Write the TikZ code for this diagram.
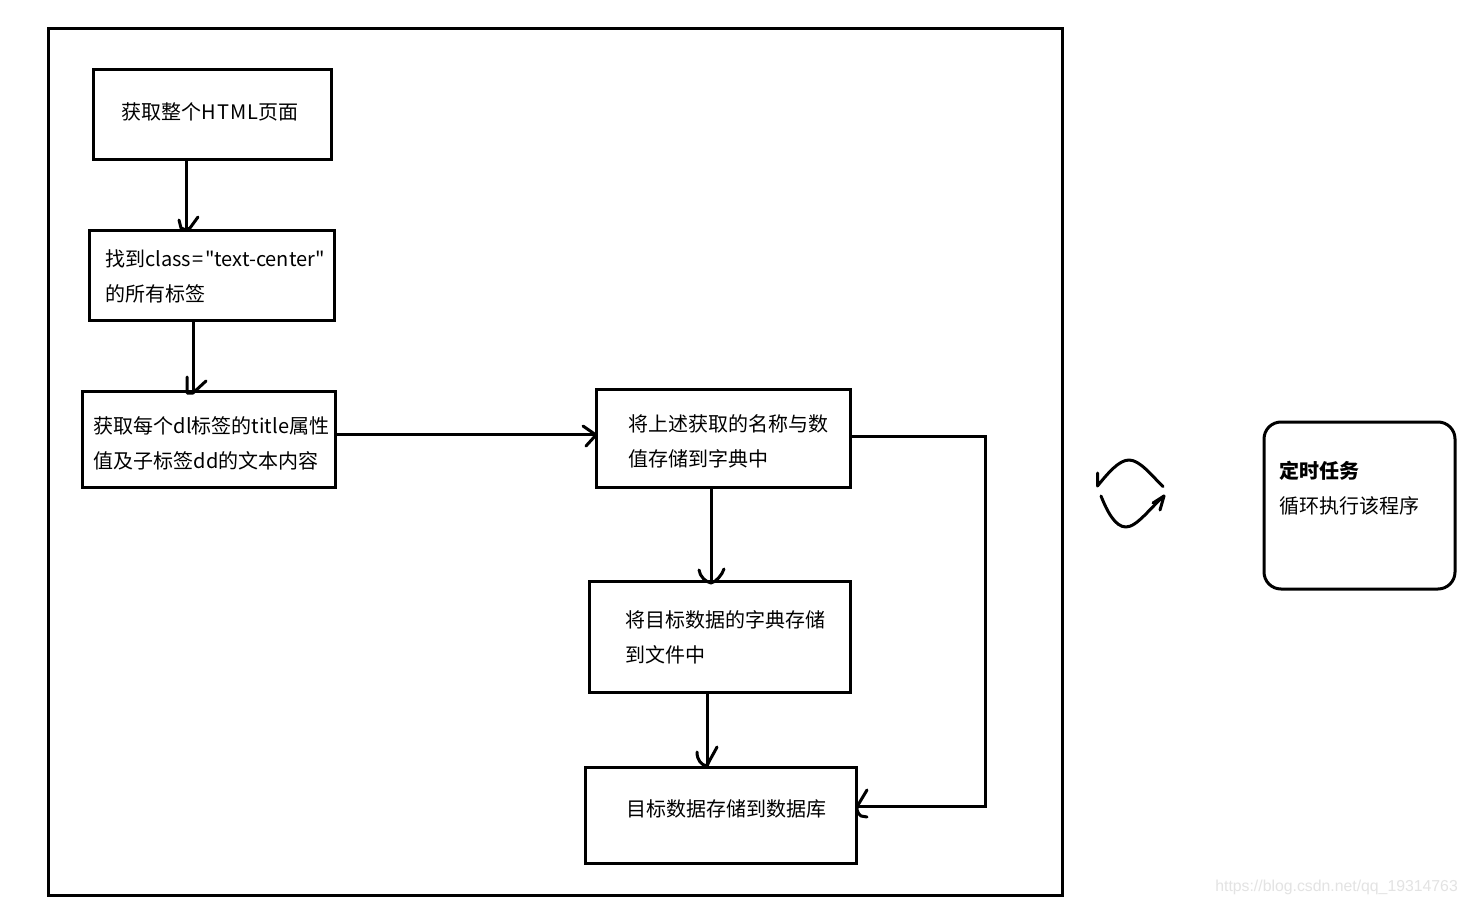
\documentclass[tikz,border=0pt]{standalone}
\usepackage{fontspec}
\newfontfamily\cjk{Noto Sans CJK SC}
\newfontfamily\wmfont{Liberation Sans}
\tikzset{
  every picture/.style={x=1pt,y=-1pt},
  stroke/.style={line width=3pt,draw=black,line cap=round,line join=round},
  boxnode/.style={draw=black,line width=3pt,anchor=north west,inner sep=0pt,outer sep=0pt,
    minimum width=#1},
  label text/.style={anchor=base west,inner sep=0pt,font=\cjk\fontsize{20pt}{24pt}\selectfont},
  connector/.style={line width=3pt,draw=black,line join=miter}
}
\begin{document}
\begin{tikzpicture}
  \useasboundingbox (0,0) rectangle (1467,904);
  \fill[white] (0,0) rectangle (1467,904);

  % outer frame
  \node[boxnode=1014pt,minimum height=866.5pt] (frame) at (48,28.5) {};

  % process boxes
  \node[boxnode=238pt,minimum height=89.5pt] (page) at (93,70) {};
  \node[boxnode=245pt,minimum height=89pt] (tags) at (89,231) {};
  \node[boxnode=253pt,minimum height=96pt] (attrs) at (82,391) {};
  \node[boxnode=254pt,minimum height=98pt] (merge) at (596,389) {};
  \node[boxnode=260.5pt,minimum height=111pt] (file) at (589.5,581) {};
  \node[boxnode=270.5pt,minimum height=96pt] (db) at (585.5,767) {};
  \node[boxnode=191pt,minimum height=167pt,rounded corners=17pt] (timer) at (1264,422) {};

  % box captions
  \node[label text] (t1) at (121.5,119.5) {获取整个H\kern.9ptT\kern.9ptM\kern.9ptL\kern.9pt页面};
  \node[label text] (t2a) at (105,266.5) {找到class\kern1.5pt=\kern1.5pt"text-center"};
  \node[label text] (t2b) at (105,301.5) {的所有标签};
  \node[label text] (t3a) at (93.5,433.5) {获取每个dl标签的title属性};
  \node[label text] (t3b) at (93.5,468.5) {值及子标签dd的文本内容};
  \node[label text] (t4a) at (628.5,431.5) {将上述获取的名称与数};
  \node[label text] (t4b) at (628.5,466.5) {值存储到字典中};
  \node[label text] (t5a) at (625,627.5) {将目标数据的字典存储};
  \node[label text] (t5b) at (625,662.5) {到文件中};
  \node[label text] (t6) at (626.5,816.5) {目标数据存储到数据库};
  \node[label text,font=\cjk\bfseries\fontsize{20pt}{24pt}\selectfont] (t7a) at (1279,478.5) {定时任务};
  \node[label text] (t7b) at (1279,513.5) {循环执行该程序};

  % where each connector lands
  \coordinate (tipA) at (186,230);
  \coordinate (tipB) at (193,392);
  \coordinate (tipC) at (596,434);
  \coordinate (tipD) at (711,583);
  \coordinate (tipE) at (707,766);
  \coordinate (tipF) at (857,806);
  \coordinate (bendF) at (985,436);

  % connectors
  \draw[connector] (page.south -| tipA) -- (tipA);
  \draw[connector] (tags.south -| tipB) -- (tipB);
  \draw[connector] (attrs.east |- tipC) -- (tipC);
  \draw[connector] (merge.south -| tipD) -- (tipD);
  \draw[connector] (file.south -| tipE) -- (tipE);
  \draw[connector] (merge.east |- bendF) -- (bendF) |- (tipF);

  % hand-drawn arrowheads
  \draw[stroke] (tipA) ++(-7,-10) -- ++(2,8) -- ++(5,2) -- ++(4,-2) -- ++(8,-11);
  \draw[stroke] (tipB) ++(-6,-15) -- ++(0,16) -- ++(6,0) -- ++(13,-12);
  \draw[stroke] (tipC) ++(-13,-8) -- ++(13,9) -- ++(-10,11);
  \draw[stroke] (tipD) ++(-12,-13) .. controls +(1,7) and +(-5,-1) .. (tipD) .. controls +(5,-1) and +(-2,6) .. ++(13,-14);
  \draw[stroke] (tipE) ++(-10,-14) .. controls +(0,8) and +(-6,-1) .. (tipE) .. controls +(2,-5) and +(-3,6) .. ++(10,-19);
  \draw[stroke] (tipF) ++(10,-16) -- ++(-9,15) .. controls +(-2,3) and +(-4,-3) .. ++(3,11) -- ++(6,1);

  % loop symbol between the frame and the timer box
  \draw[stroke] (1097.5,473) -- (1097.5,486)
    .. controls (1108,473) and (1119,460) .. (1129,460)
    .. controls (1140,460) and (1152,476) .. (1163,486.5);
  \draw[stroke] (1101,496)
    .. controls (1107,511) and (1115,527) .. (1126,527)
    .. controls (1137,527) and (1151,507) .. (1164,496);
  \draw[stroke] (1160,510) -- (1164,496) -- (1153,503);

  % site mark
  \node[anchor=base east,inner sep=0pt,text=black!11,font=\wmfont\fontsize{15.8pt}{20pt}\selectfont] (mark) at (1458,891) {https://blog.csdn.net/qq\_19314763};
\end{tikzpicture}
\end{document}
